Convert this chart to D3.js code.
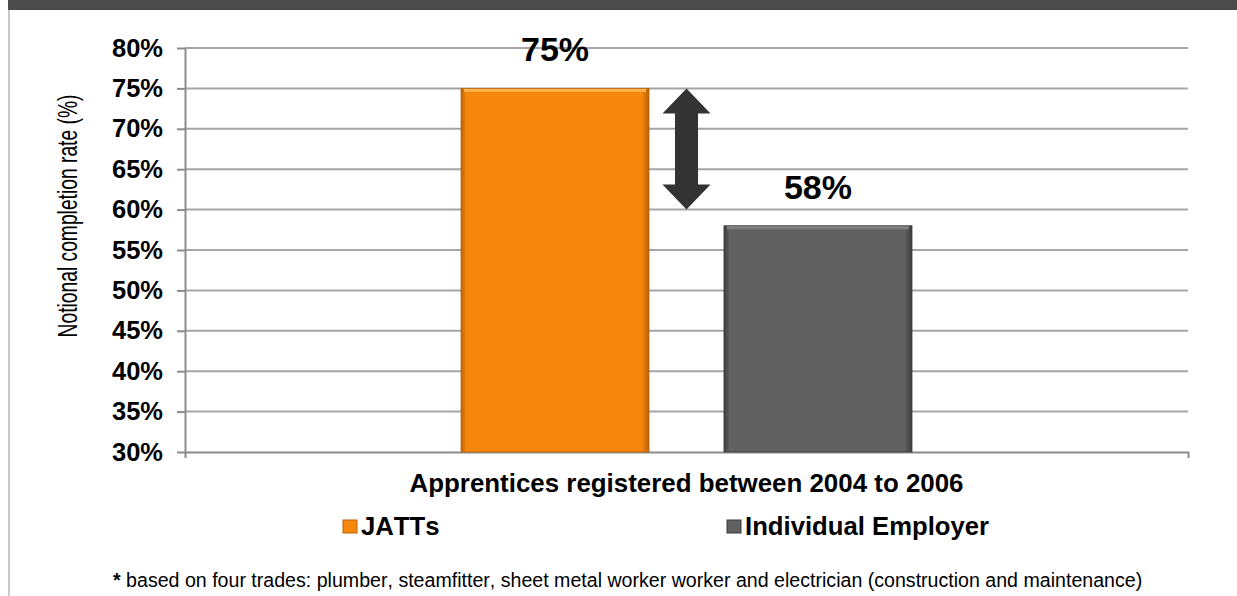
<!DOCTYPE html>
<html>
<head>
<meta charset="utf-8">
<script src="https://cdn.jsdelivr.net/npm/d3@7"></script>
<style>
  body { margin: 0; background: #fff; }
  text { font-family: Arial, "Liberation Sans", sans-serif; font-kerning: none; }
</style>
</head>
<body>
<div id="plot"></div>
<script>
// data
let category = 'Apprentices registered between 2004 to 2006';
let seriesNames = ['JATTs', 'Individual Employer'];
let seriesValues = [0.75, 0.58];
let seriesColors = ['#f7870c', '#616161'];
let seriesEdges = ['#b8620a', '#3c3c3c'];
let seriesTops = ['#fbb24a', '#808080'];
let yTicks = [0.30, 0.35, 0.40, 0.45, 0.50, 0.55, 0.60, 0.65, 0.70, 0.75, 0.80];
let gapArrow = [0.75, 0.60];
let yLabel = 'Notional completion rate (%)';
let footnote = 'based on four trades: plumber, steamfitter, sheet metal worker worker and electrician (construction and maintenance)';

let svgWidth = 1237;
let svgHeight = 596;

let margin = { top: 48, right: 49, bottom: 144, left: 185 };
let chartWidth = svgWidth - margin.left - margin.right;
let chartHeight = svgHeight - margin.top - margin.bottom;

let $svg = d3.select('#plot')
    .append('svg')
    .attr('width', svgWidth)
    .attr('height', svgHeight);

// top band and left rule
$svg.append('rect')
    .attr('x', 8).attr('y', 0)
    .attr('width', svgWidth - 8).attr('height', 10)
    .attr('fill', '#4b4b4b');
$svg.append('rect')
    .attr('x', 8).attr('y', 10)
    .attr('width', 2).attr('height', svgHeight - 10)
    .attr('fill', '#c8c8c8');

let defs = $svg.append('defs');
seriesColors.forEach((c, i) => {
    let g = defs.append('linearGradient')
        .attr('id', 'bevel' + i)
        .attr('x1', '0%').attr('x2', '100%');
    g.append('stop').attr('offset', '0%').attr('stop-color', seriesEdges[i]);
    g.append('stop').attr('offset', '3%').attr('stop-color', c);
    g.append('stop').attr('offset', '96%').attr('stop-color', c);
    g.append('stop').attr('offset', '100%').attr('stop-color', seriesEdges[i]);
});

let chartGroup = $svg.append('g')
    .attr('transform', `translate(${margin.left}, ${margin.top})`);

// scales
let yScale = d3.scaleLinear()
    .domain([0.30, 0.80])
    .range([chartHeight, 0]);

let x0 = d3.scaleBand()
    .domain([category])
    .range([0, chartWidth])
    .paddingInner(0)
    .paddingOuter(0.612);

let x1 = d3.scaleBand()
    .domain(seriesNames)
    .range([0, x0.bandwidth()])
    .paddingInner(0.285)
    .paddingOuter(0);

// gridlines
chartGroup.append('g')
    .selectAll('line')
    .data(yTicks.slice(1))
    .enter()
    .append('line')
    .attr('x1', 0).attr('x2', chartWidth)
    .attr('y1', d => yScale(d)).attr('y2', d => yScale(d))
    .attr('stroke', '#a5a5a5')
    .attr('stroke-width', 2);

// y axis
let leftAxis = d3.axisLeft(yScale)
    .tickValues(yTicks)
    .tickFormat(d3.format('.0%'))
    .tickSizeInner(8)
    .tickSizeOuter(0)
    .tickPadding(14);

let yAxisG = chartGroup.append('g').call(leftAxis);
yAxisG.select('.domain').attr('stroke', '#8c8c8c').attr('stroke-width', 2);
yAxisG.selectAll('.tick line').attr('stroke', '#8c8c8c').attr('stroke-width', 2);
yAxisG.selectAll('.tick text')
    .attr('font-size', 25.5)
    .attr('font-weight', 'bold')
    .attr('fill', '#000')
    .attr('font-family', 'Arial, "Liberation Sans", sans-serif');

// x axis (line with end ticks)
let bottomAxis = d3.axisBottom(x0)
    .tickSizeInner(0)
    .tickSizeOuter(6)
    .tickFormat('');
let xAxisG = chartGroup.append('g')
    .attr('transform', `translate(0, ${chartHeight})`)
    .call(bottomAxis);
xAxisG.select('.domain').attr('stroke', '#8c8c8c').attr('stroke-width', 2);

// bars
let barGroup = chartGroup.append('g')
    .attr('transform', `translate(${x0(category)}, 0)`);

barGroup.selectAll('rect.bar')
    .data(seriesValues)
    .enter()
    .append('rect')
    .attr('class', 'bar')
    .attr('x', (d, i) => x1(seriesNames[i]))
    .attr('y', d => yScale(d))
    .attr('width', x1.bandwidth())
    .attr('height', d => chartHeight - yScale(d))
    .attr('fill', (d, i) => `url(#bevel${i})`)
    .attr('stroke', (d, i) => seriesEdges[i])
    .attr('stroke-width', 0.8);

// light top edge of the bevel
barGroup.selectAll('rect.top')
    .data(seriesValues)
    .enter()
    .append('rect')
    .attr('class', 'top')
    .attr('x', (d, i) => x1(seriesNames[i]) + 3)
    .attr('y', d => yScale(d) + 0.5)
    .attr('width', x1.bandwidth() - 6)
    .attr('height', 3)
    .attr('fill', (d, i) => seriesTops[i]);

// value labels
barGroup.selectAll('text.value')
    .data(seriesValues)
    .enter()
    .append('text')
    .attr('class', 'value')
    .attr('x', (d, i) => x1(seriesNames[i]) + x1.bandwidth() / 2)
    .attr('y', d => yScale(d) - 27)
    .attr('text-anchor', 'middle')
    .attr('font-size', 34)
    .attr('font-weight', 'bold')
    .attr('fill', '#000')
    .text(d => d3.format('.0%')(d));

// double arrow in the gap between the bars
let arrowX = (x1(seriesNames[0]) + x1.bandwidth() + x1(seriesNames[1])) / 2;
let aTop = yScale(gapArrow[0]);
let aBot = yScale(gapArrow[1]);
let headW = 24, headH = 25, shaftW = 11.5;
let arrowPath = d3.path();
arrowPath.moveTo(arrowX, aTop);
arrowPath.lineTo(arrowX + headW, aTop + headH);
arrowPath.lineTo(arrowX + shaftW, aTop + headH);
arrowPath.lineTo(arrowX + shaftW, aBot - headH);
arrowPath.lineTo(arrowX + headW, aBot - headH);
arrowPath.lineTo(arrowX, aBot);
arrowPath.lineTo(arrowX - headW, aBot - headH);
arrowPath.lineTo(arrowX - shaftW, aBot - headH);
arrowPath.lineTo(arrowX - shaftW, aTop + headH);
arrowPath.lineTo(arrowX - headW, aTop + headH);
arrowPath.closePath();
barGroup.append('path')
    .attr('d', arrowPath.toString())
    .attr('fill', '#333333');

// y axis label (condensed along its length, as in the original)
let yLabelG = chartGroup.append('g');
let yLabelText = yLabelG.append('text')
    .attr('x', 0)
    .attr('y', 0)
    .attr('text-anchor', 'middle')
    .attr('font-size', 27)
    .attr('fill', '#000')
    .text(yLabel);
let squeeze = 243 / yLabelText.node().getComputedTextLength();
yLabelG.attr('transform', `translate(${77 - margin.left}, 168) rotate(-90) scale(${squeeze}, 1)`);

// x axis title
chartGroup.append('text')
    .attr('x', x0(category) + x0.bandwidth() / 2)
    .attr('y', chartHeight + 40)
    .attr('text-anchor', 'middle')
    .attr('font-size', 25.9)
    .attr('font-weight', 'bold')
    .attr('fill', '#000')
    .text(category);

// legend
let legendX = [343, 727];
let legend = $svg.append('g')
    .selectAll('g')
    .data(seriesNames)
    .enter()
    .append('g')
    .attr('transform', (d, i) => `translate(${legendX[i]}, 520)`);

legend.append('rect')
    .attr('width', 14).attr('height', 13)
    .attr('fill', (d, i) => seriesColors[i])
    .attr('stroke', (d, i) => seriesEdges[i])
    .attr('stroke-width', 1);

legend.append('text')
    .attr('x', 18)
    .attr('y', 15)
    .attr('font-size', 25.7)
    .attr('font-weight', 'bold')
    .attr('fill', '#000')
    .text(d => d);

// footnote
let fn = $svg.append('text')
    .attr('x', 113)
    .attr('y', 587)
    .attr('font-size', 19.6)
    .attr('fill', '#000');
fn.append('tspan').attr('font-weight', 'bold').text('*');
fn.append('tspan').text(' ' + footnote);
</script>
</body>
</html>
